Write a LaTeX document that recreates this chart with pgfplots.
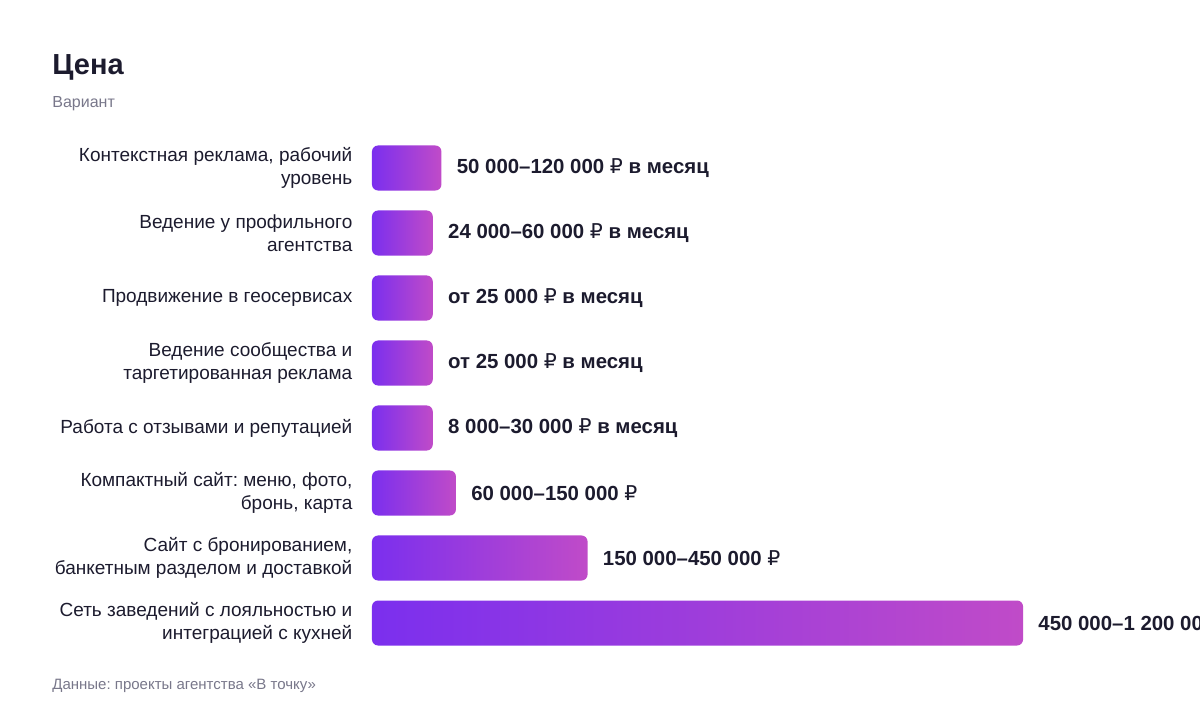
\documentclass[border=0pt]{standalone}
\usepackage{pgfplots}
\pgfplotsset{compat=1.18}
\usepackage{fontspec}
\setmainfont{Liberation Sans}
\newfontfamily\rubfont{DejaVu Sans}
\newcommand{\rub}{{\rubfont\mdseries ₽}}

\definecolor{barA}{RGB}{123,47,238}
\definecolor{barB}{RGB}{192,75,200}
\definecolor{ink}{RGB}{28,27,46}
\definecolor{muted}{RGB}{120,119,138}

\begin{document}
\frenchspacing
\begin{tikzpicture}
    \useasboundingbox (0,0) rectangle (600pt,356pt);
    \clip (0,0) rectangle (600pt,356pt);

    % title block
    \node[anchor=base west, inner sep=0pt, text=ink, font=\fontsize{14.5}{17}\selectfont\bfseries]
        at (26pt,318.5pt) {Цена};
    \node[anchor=base west, inner sep=0pt, text=muted, font=\fontsize{8}{10}\selectfont]
        at (26pt,302pt) {Вариант};

    \begin{axis}[
        at={(186pt,288.25pt)},
        anchor=north west,
        scale only axis,
        width=414pt,
        height=260pt,
        xmin=0, xmax=572.3,
        ymin=-0.5, ymax=7.5,
        y dir=reverse,
        hide x axis,
        axis lines=left,
        axis line style={draw=none},
        tick style={draw=none},
        ytick={0,1,2,3,4,5,6,7},
        yticklabels={
            {Контекстная реклама, рабочий\\уровень},
            {Ведение у профильного\\агентства},
            {Продвижение в геосервисах},
            {Ведение сообщества и\\таргетированная реклама},
            {Работа с отзывами и репутацией},
            {Компактный сайт: меню, фото,\\бронь, карта},
            {Сайт с бронированием,\\банкетным разделом и доставкой},
            {Сеть заведений с лояльностью и\\интеграцией с кухней}
        },
        yticklabel style={align=right, inner sep=0pt, xshift=-7.5pt,
            text=ink, font=\fontsize{9.5}{11.5}\selectfont},
        clip=false,
        point meta=explicit symbolic,
        nodes near coords,
        nodes near coords style={anchor=west, inner sep=0pt, xshift=7.5pt,
            text=ink, font=\fontsize{10.2}{12}\selectfont\bfseries},
        gbar/.style={xbar, bar width=22.5pt, bar shift=0pt, draw=none,
            left color=barA, right color=barB, rounded corners=3pt},
    ]
        % bar lengths in thousand roubles (short bars shown with a minimum length)
        \addplot[gbar] coordinates {(48,0)  [50 000–120 000 \rub{} в месяц]};
        \addplot[gbar] coordinates {(42,1)  [24 000–60 000 \rub{} в месяц]};
        \addplot[gbar] coordinates {(42,2)  [от 25 000 \rub{} в месяц]};
        \addplot[gbar] coordinates {(42,3)  [от 25 000 \rub{} в месяц]};
        \addplot[gbar] coordinates {(42,4)  [8 000–30 000 \rub{} в месяц]};
        \addplot[gbar] coordinates {(58,5)  [60 000–150 000 \rub]};
        \addplot[gbar] coordinates {(149,6) [150 000–450 000 \rub]};
        \addplot[gbar] coordinates {(450,7) [450 000–1 200 000 \rub]};
    \end{axis}

    \node[anchor=base west, inner sep=0pt, text=muted, font=\fontsize{7.5}{9}\selectfont]
        at (26pt,11pt) {Данные: проекты агентства «В точку»};
\end{tikzpicture}
\end{document}
